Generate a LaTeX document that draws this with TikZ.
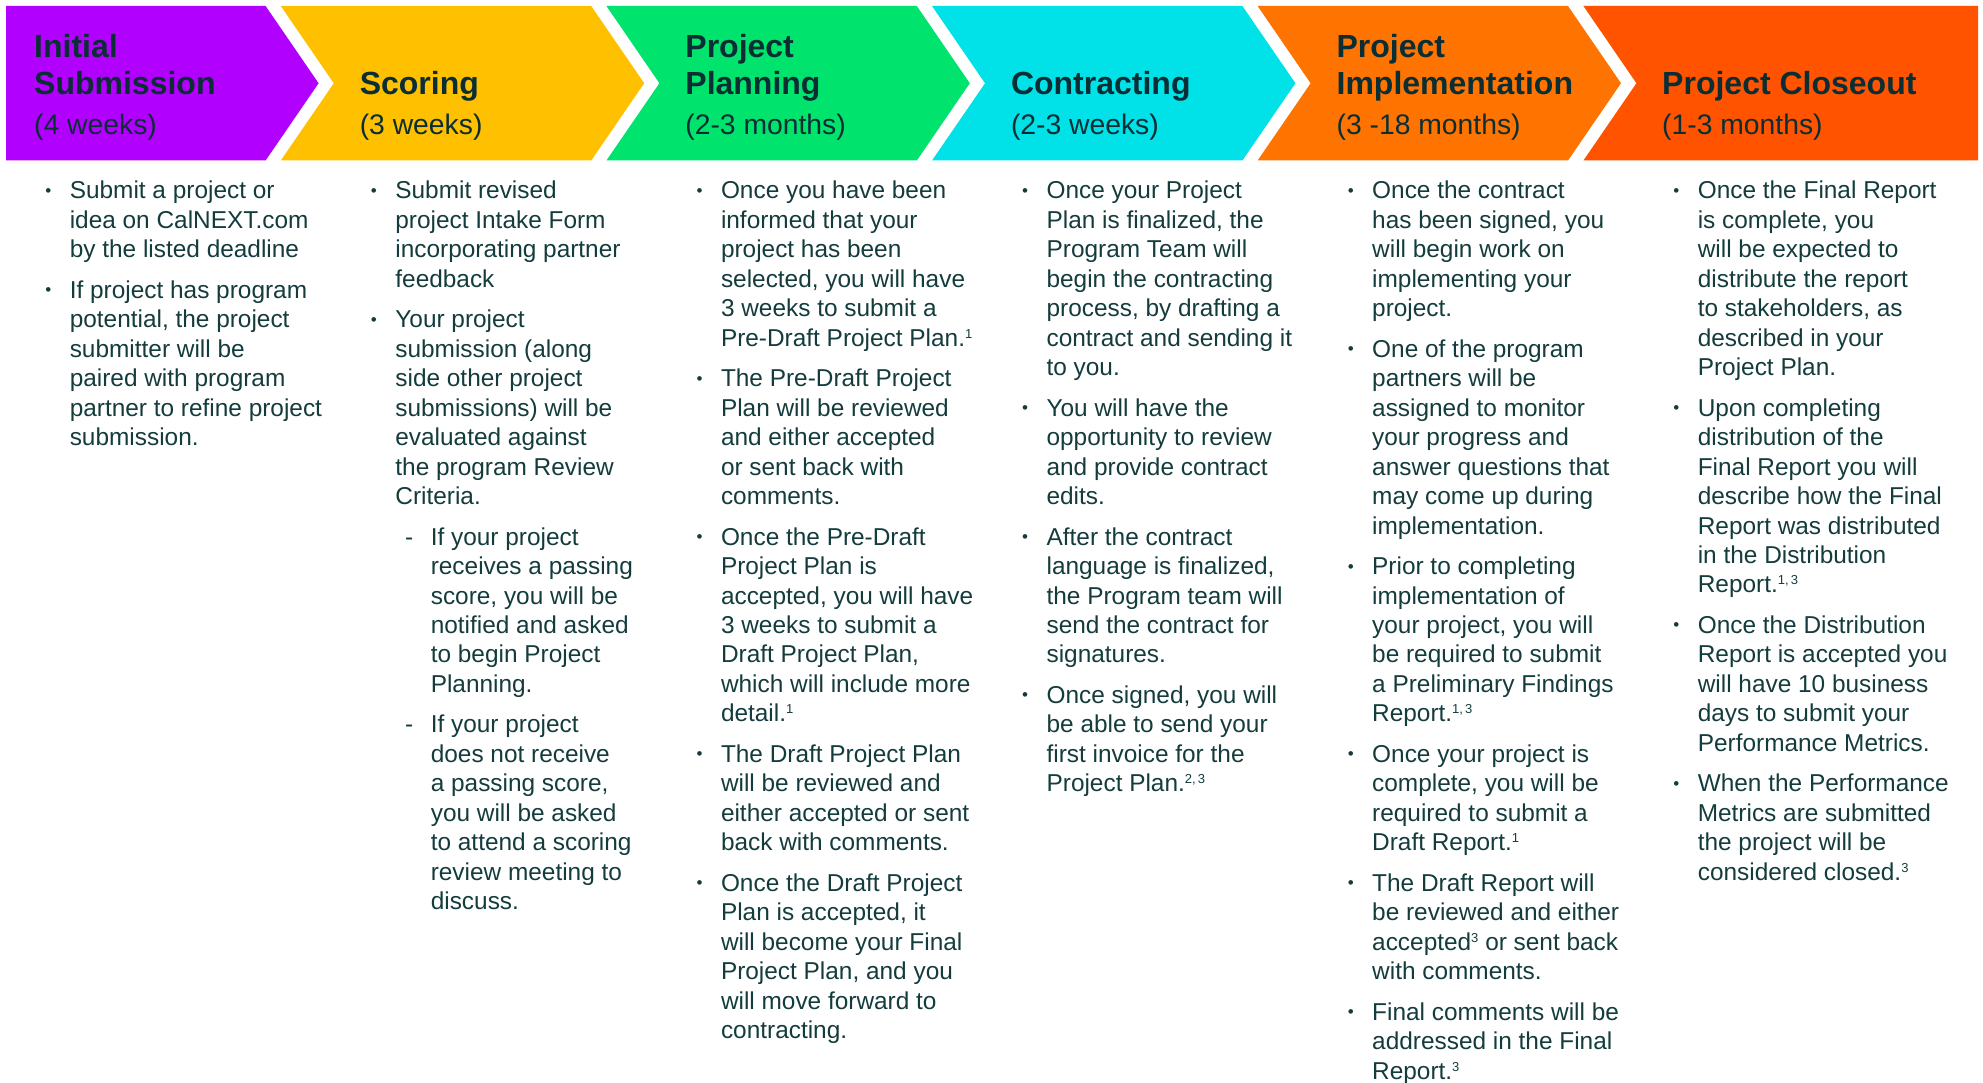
\documentclass[tikz,border=0pt]{standalone}
\usepackage{fontspec}
\setmainfont{Liberation Sans}
\usepackage{xcolor}
\usepackage{tikz}

\definecolor{subPurple}{HTML}{B200FF}
\definecolor{scoreYellow}{HTML}{FFC000}
\definecolor{planGreen}{HTML}{00E46E}
\definecolor{contrCyan}{HTML}{00E1E8}
\definecolor{implOrange}{HTML}{FF7300}
\definecolor{closeRed}{HTML}{FF5300}
\definecolor{inkTeal}{HTML}{143C3C}
\definecolor{headInk}{HTML}{0A2E34}

\newcommand{\bulletmark}{{\fontsize{17pt}{17pt}\selectfont\raisebox{2.5pt}{\textbullet}}}
\newcommand{\fnref}[1]{\raisebox{8pt}{\fontsize{13pt}{13pt}\selectfont #1}}
\newcommand{\stepitem}[1]{{\leftskip=24pt\parskip=11.1pt\spaceskip=0pt\xspaceskip=0pt\noindent\llap{\bulletmark\hspace{18.5pt}}#1\par}}
\newcommand{\dashitem}[1]{{\leftskip=59.4pt\parskip=11.1pt\spaceskip=0pt\xspaceskip=0pt\noindent\llap{-\hspace{17.5pt}}#1\par}}
\newcommand{\headfont}{\fontsize{32pt}{37pt}\selectfont\bfseries\spaceskip=0pt\xspaceskip=0pt}
\newcommand{\durfont}{\fontsize{28.3pt}{40pt}\selectfont\spaceskip=0pt\xspaceskip=0pt}

\begin{document}
\begin{tikzpicture}[
  x=1pt, y=-1pt,
  head/.style={anchor=base west, inner sep=0pt, text width=290pt, align=left, text=headInk},
  body/.style={anchor=base west, inner sep=0pt, text width=300pt, align=left, text=inkTeal,
    font=\fontsize{24.4pt}{29.45pt}\selectfont}
]
  \useasboundingbox (0,0) rectangle (1983,1083);

  % phase chevrons
  \fill[subPurple] (6,6) -- (265.6,6) -- (318.6,83.25) -- (265.6,160.5) -- (6,160.5) -- cycle;
  \foreach \k/\fillc in {1/scoreYellow,2/planGreen,3/contrCyan,4/implOrange}{
    \pgfmathsetmacro\tr{265.6+\k*325.6}
    \pgfmathsetmacro\lf{\tr-310.4}
    \fill[\fillc] (\lf,6) -- (\tr,6) -- (\tr+53,83.25) -- (\tr,160.5) -- (\lf,160.5) -- (\lf+53,83.25) -- cycle;
  }
  \fill[closeRed] (1583.4,6) -- (1978,6) -- (1978,160.5) -- (1583.4,160.5) -- (1636.4,83.25) -- cycle;

  % phase titles
  \foreach \k/\yb/\title/\dur in {0/58/{Initial\\Submission}/{(4 weeks)},
      1/95/{Scoring}/{(3 weeks)},
      2/58/{Project\\Planning}/{(2-3 months)},
      3/95/{Contracting}/{(2-3 weeks)},
      4/58/{Project\\Implementation}/{(3 -18 months)},
      5/95/{Project Closeout}/{(1-3 months)}}{
    \node[head] (h\k) at ({34+\k*325.6},\yb) {{\headfont\title\par}{\durfont\dur\par}};
  }

  % phase steps
  \node[body] (b0) at (45.6,199) {%
    \stepitem{Submit a project or\\idea on CalNEXT.com\\by the listed deadline}
    \stepitem{If project has program\\potential, the project\\submitter will be\\paired with program\\partner to refine project\\submission.}};
  \node[body] (b1) at (371.2,199) {%
    \stepitem{Submit revised\\project Intake Form\\incorporating partner\\feedback}
    \stepitem{Your project\\submission (along\\side other project\\submissions) will be\\evaluated against\\the program Review\\Criteria.}
    \dashitem{If your project\\receives a passing\\score, you will be\\notified and asked\\to begin Project\\Planning.}
    \dashitem{If your project\\does not receive\\a passing score,\\you will be asked\\to attend a scoring\\review meeting to\\discuss.}};
  \node[body] (b2) at (696.8,199) {%
    \stepitem{Once you have been\\informed that your\\project has been\\selected, you will have\\3 weeks to submit a\\Pre-Draft Project Plan.\fnref{1}}
    \stepitem{The Pre-Draft Project\\Plan will be reviewed\\and either accepted\\or sent back with\\comments.}
    \stepitem{Once the Pre-Draft\\Project Plan is\\accepted, you will have\\3 weeks to submit a\\Draft Project Plan,\\which will include more\\detail.\fnref{1}}
    \stepitem{The Draft Project Plan\\will be reviewed and\\either accepted or sent\\back with comments.}
    \stepitem{Once the Draft Project\\Plan is accepted, it\\will become your Final\\Project Plan, and you\\will move forward to\\contracting.}};
  \node[body] (b3) at (1022.4,199) {%
    \stepitem{Once your Project\\Plan is finalized, the\\Program Team will\\begin the contracting\\process, by drafting a\\contract and sending it\\to you.}
    \stepitem{You will have the\\opportunity to review\\and provide contract\\edits.}
    \stepitem{After the contract\\language is finalized,\\the Program team will\\send the contract for\\signatures.}
    \stepitem{Once signed, you will\\be able to send your\\first invoice for the\\Project Plan.\fnref{2,\,3}}};
  \node[body] (b4) at (1348,199) {%
    \stepitem{Once the contract\\has been signed, you\\will begin work on\\implementing your\\project.}
    \stepitem{One of the program\\partners will be\\assigned to monitor\\your progress and\\answer questions that\\may come up during\\implementation.}
    \stepitem{Prior to completing\\implementation of\\your project, you will\\be required to submit\\a Preliminary Findings\\Report.\fnref{1,\,3}}
    \stepitem{Once your project is\\complete, you will be\\required to submit a\\Draft Report.\fnref{1}}
    \stepitem{The Draft Report will\\be reviewed and either\\accepted\fnref{3} or sent back\\with comments.}
    \stepitem{Final comments will be\\addressed in the Final\\Report.\fnref{3}}};
  \node[body] (b5) at (1673.6,199) {%
    \stepitem{Once the Final Report\\is complete, you\\will be expected to\\distribute the report\\to stakeholders, as\\described in your\\Project Plan.}
    \stepitem{Upon completing\\distribution of the\\Final Report you will\\describe how the Final\\Report was distributed\\in the Distribution\\Report.\fnref{1,\,3}}
    \stepitem{Once the Distribution\\Report is accepted you\\will have 10 business\\days to submit your\\Performance Metrics.}
    \stepitem{When the Performance\\Metrics are submitted\\the project will be\\considered closed.\fnref{3}}};
\end{tikzpicture}
\end{document}
